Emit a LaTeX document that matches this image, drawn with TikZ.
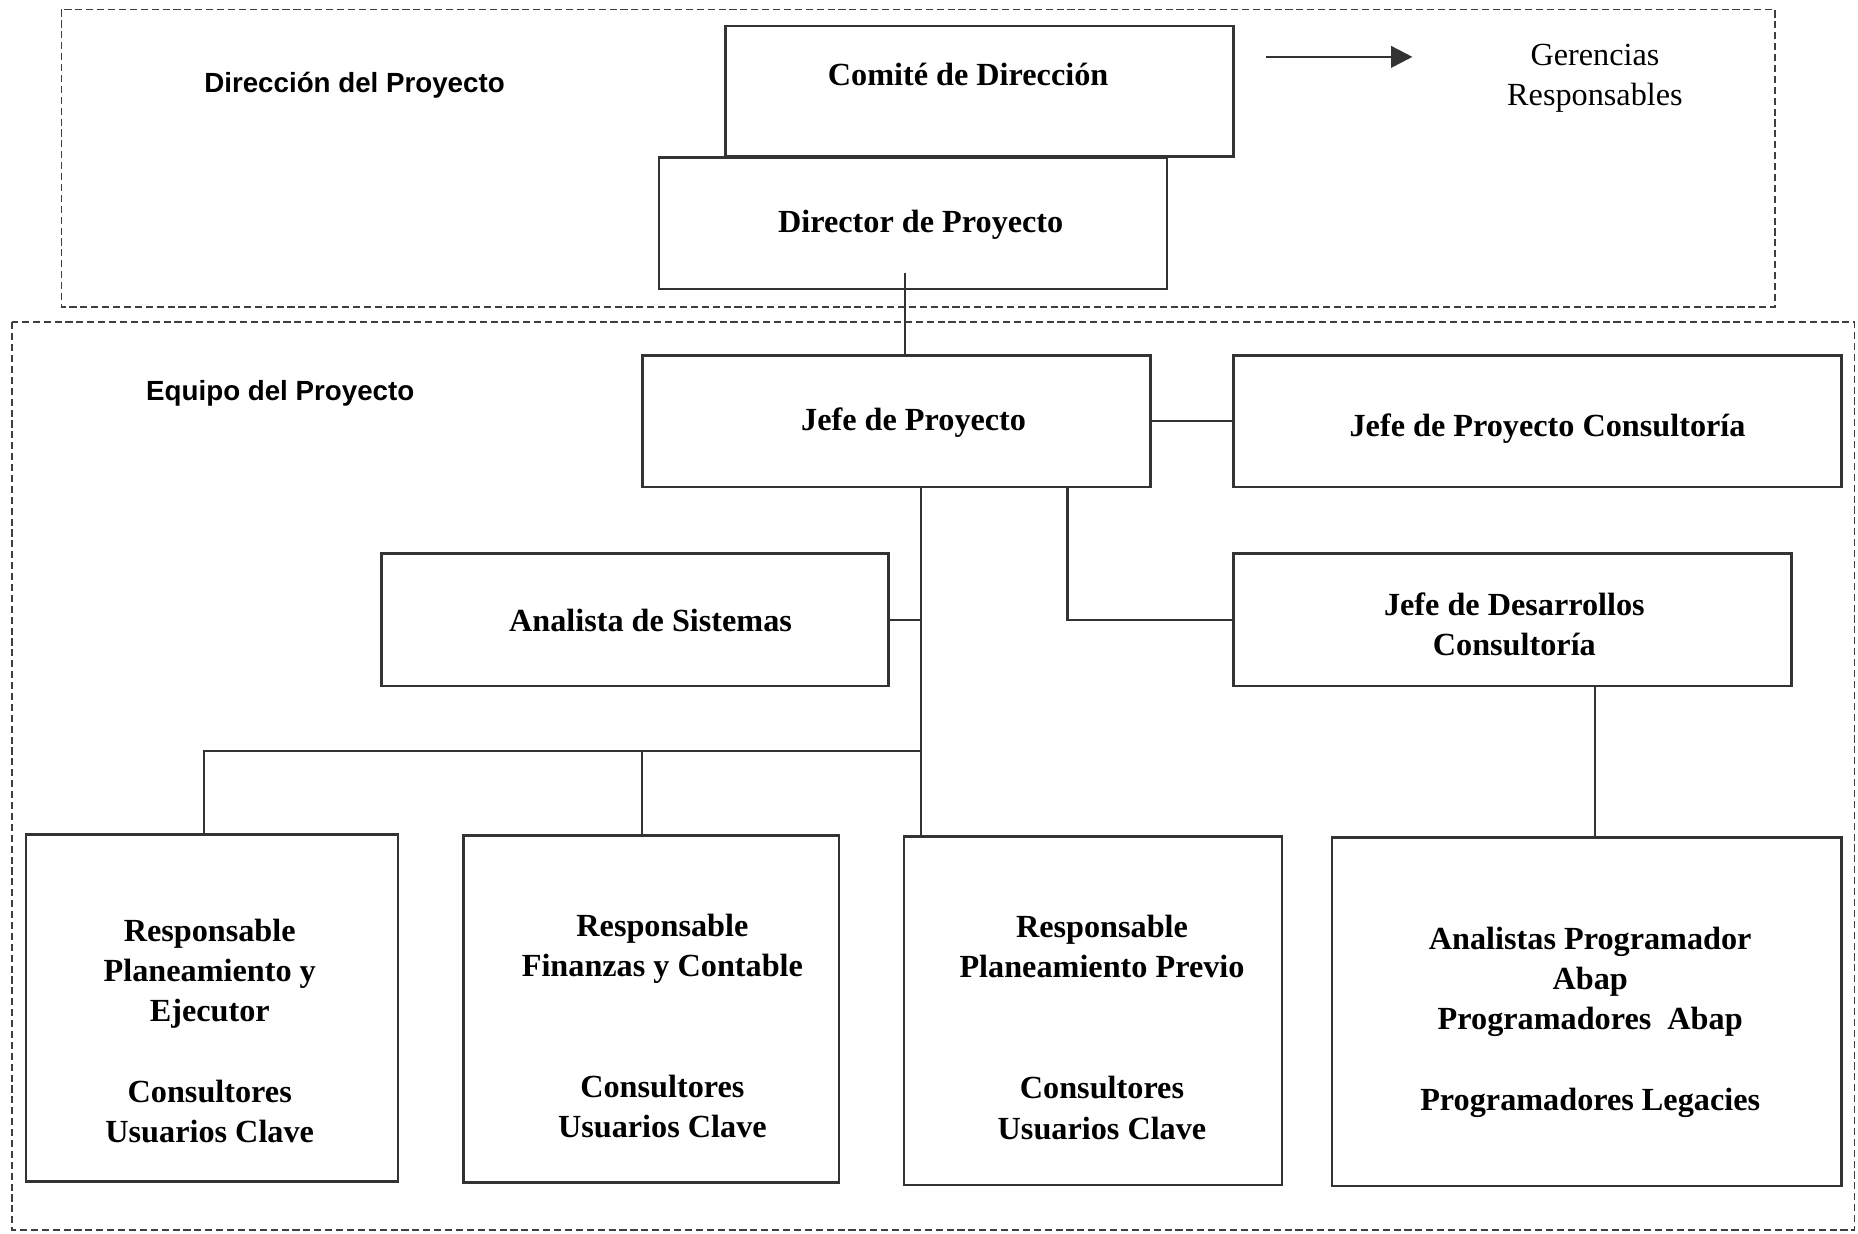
\documentclass[tikz,border=0pt]{standalone}
\usepackage{fontspec}
\setmainfont{Liberation Serif}
\newfontfamily\headsans{Liberation Sans}
\usetikzlibrary{arrows.meta}
\definecolor{boxline}{HTML}{333333}
\definecolor{dashline}{HTML}{3F3F3F}
\begin{document}
\begin{tikzpicture}[x=0.5pt,y=-0.5pt,
  box/.style={draw=boxline, line width=1.1pt, rectangle, inner sep=0pt},
  role/.style={font=\fontsize{13.6}{17}\selectfont\bfseries, align=center, inner sep=0pt, text=black},
  plain/.style={font=\fontsize{13.6}{17}\selectfont, align=center, inner sep=0pt, text=black},
  area/.style={draw=dashline, line width=0.7pt, dash pattern=on 3pt off 1.6pt},
  arealabel/.style={font=\headsans\bfseries\fontsize{11.7}{14}\selectfont, inner sep=0pt, anchor=west},
  link/.style={draw=boxline, line width=1pt}]

\useasboundingbox (0,0) rectangle (1568,1041);

% group frames
\draw[area] (52,8) rectangle (1498,259);
\draw[area] (10,272) rectangle (1565,1038);
\node[arealabel] (lbldir) at (172,72) {Dirección del Proyecto};
\node[arealabel] (lbleq) at (123,332) {Equipo del Proyecto};

% steering level
\node[box, minimum width=214.5pt, minimum height=55pt, fill=white] (cd) at (826.5,77) {};
\node[role] (cdt) at (817,63) {Comité de Dirección};
\node[box, minimum width=214.5pt, minimum height=55.5pt, fill=white] (dir) at (770.5,188.5) {};
\node[role] (dirt) at (777,190) {Director de Proyecto};

\coordinate (a1) at (1068,48);
\coordinate (a2) at (1192,48);
\draw[link, line width=1.1pt, -{Triangle[length=9pt,width=9pt]}] (a1) -- (a2);
\node[plain] (ger) at (1346,66) {Gerencias\\Responsables};

% project team
\node[box, minimum width=214.5pt, minimum height=55.5pt] (jp) at (756.5,355.5) {};
\node[role] (jpt) at (771,357) {Jefe de Proyecto};
\node[box, minimum width=256.5pt, minimum height=55.5pt] (jpc) at (1297.5,355.5) {};
\node[role] (jpct) at (1306,362) {Jefe de Proyecto Consultoría};
\node[box, minimum width=214pt, minimum height=56pt] (as) at (536,523) {};
\node[role] (ast) at (549,524) {Analista de Sistemas};
\node[box, minimum width=235.5pt, minimum height=56pt] (jdc) at (1276.5,523) {};
\node[role] (jdct) at (1278,527) {Jefe de Desarrollos\\Consultoría};

\node[box, minimum width=157pt, minimum height=146.5pt] (b1) at (179,850.5) {};
\node[role] (b1t) at (177,870) {Responsable\\Planeamiento y\\Ejecutor\\[17pt]Consultores\\Usuarios Clave};
\node[box, minimum width=158.5pt, minimum height=146.5pt] (b2) at (549.5,851.5) {};
\node[role] (b2t) at (559,866) {Responsable\\Finanzas y Contable\\[34pt]Consultores\\Usuarios Clave};
\node[box, minimum width=159.5pt, minimum height=147pt] (b3) at (922.5,853) {};
\node[role] (b3t) at (930,867) {Responsable\\Planeamiento Previo\\[34pt]Consultores\\Usuarios Clave};
\node[box, minimum width=215pt, minimum height=147pt] (b4) at (1339,854) {};
\node[role] (b4t) at (1342,862.5) {Analistas Programador\\Abap\\Programadores\ \ Abap\\[17pt]Programadores Legacies};

% reporting lines
\coordinate (dl) at (764,230);
\draw[link] (dl) -- (dl |- jp.north);
\draw[link] (jp.east) -- (jpc.west);
\coordinate (tr) at (777,411);
\draw[link] (tr) -- (tr |- b3.north);
\draw[link] (as.east) -- (as.east -| tr);
\coordinate (bus) at (777,634);
\coordinate (d1) at (172,634);
\coordinate (d2) at (542,634);
\draw[link] (bus) -- (d1) -- (d1 |- b1.north);
\draw[link] (d2) -- (d2 |- b2.north);
\coordinate (jx) at (901,411);
\draw[link] (jx) |- (jdc.west);
\coordinate (kx) at (1346,579);
\draw[link] (kx) -- (kx |- b4.north);
\end{tikzpicture}
\end{document}
